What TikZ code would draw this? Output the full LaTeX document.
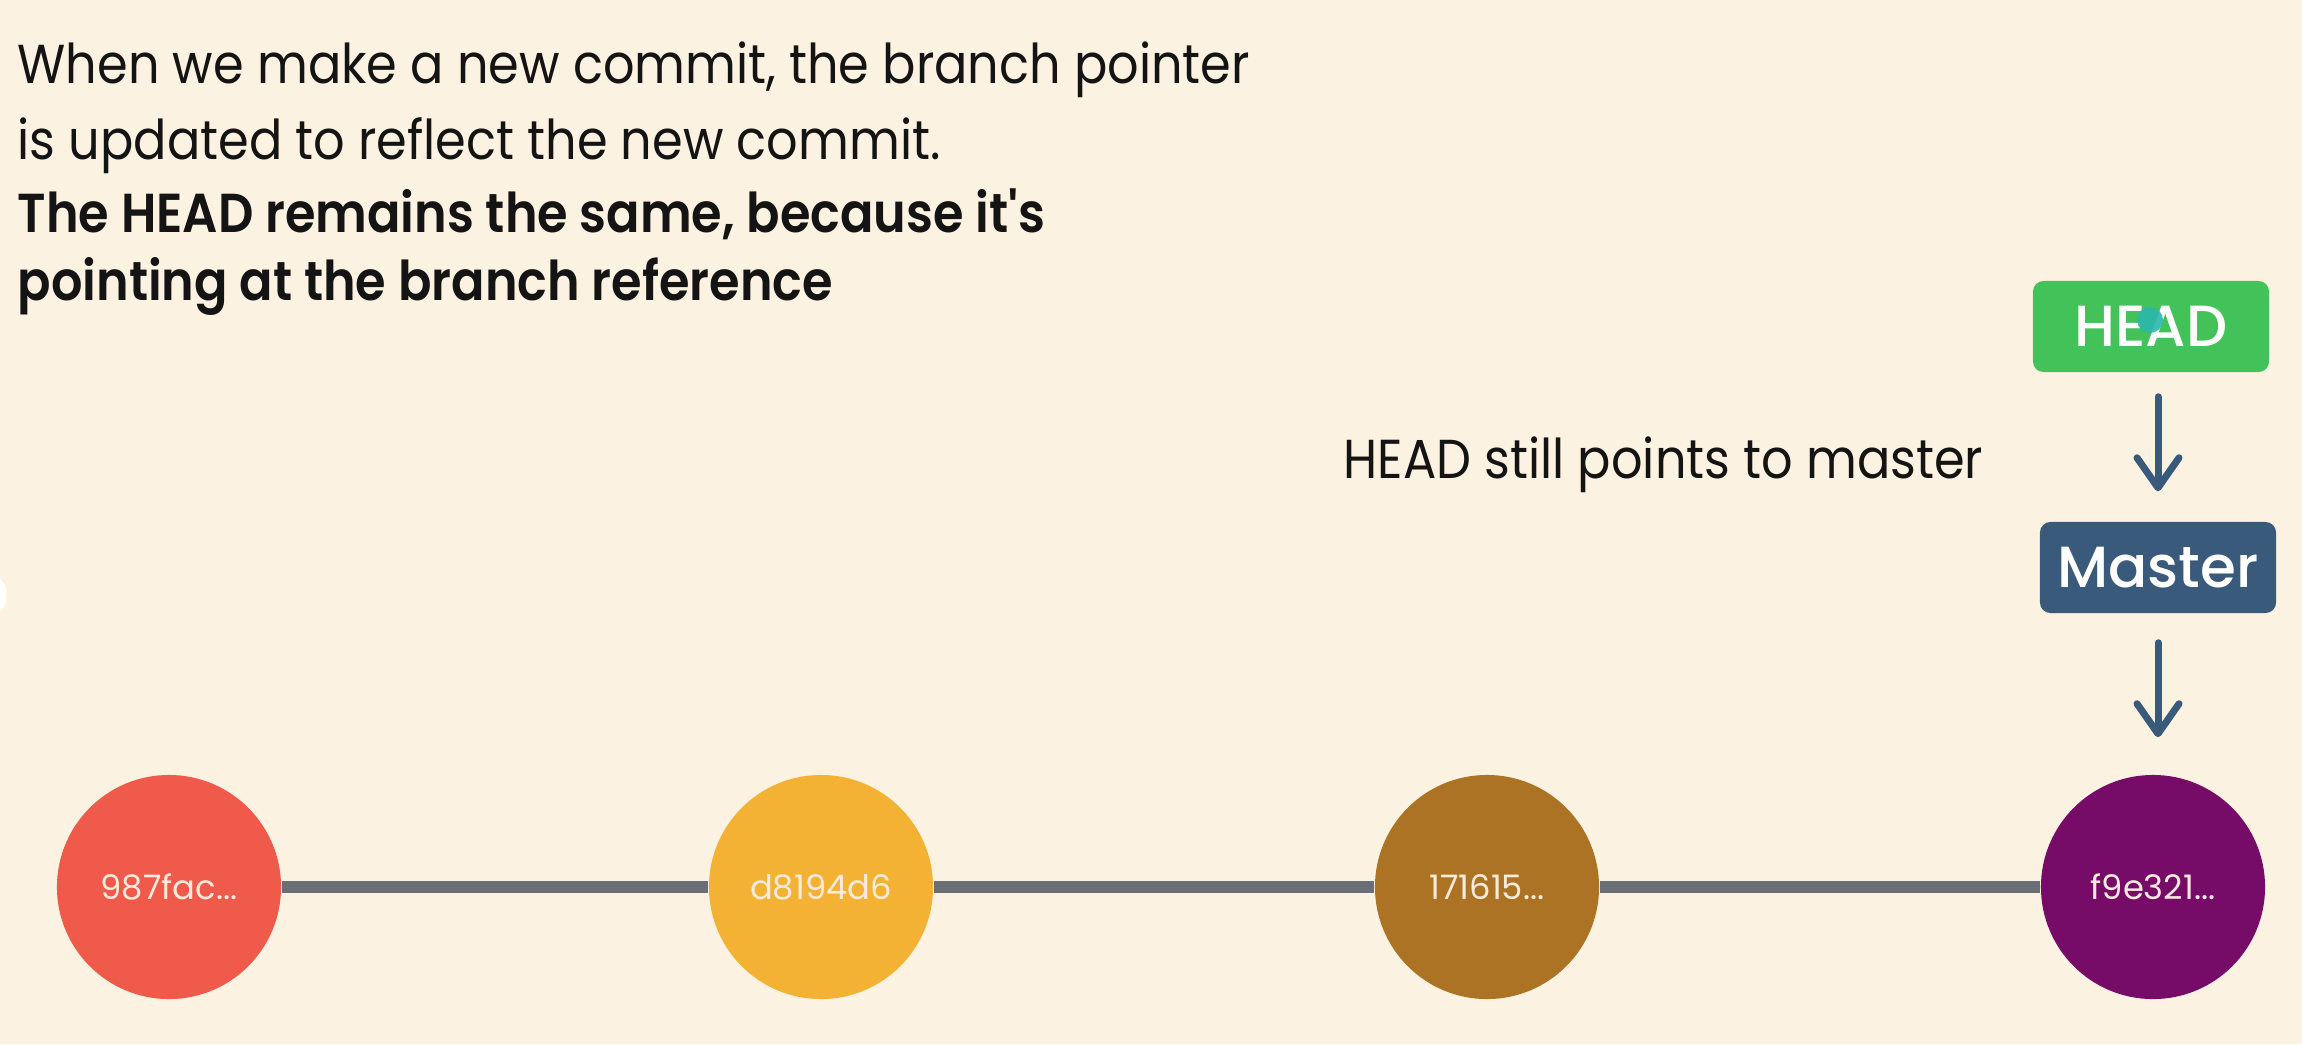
\documentclass[tikz,border=0pt]{standalone}
\usepackage{fontspec}
\setmainfont{Poppins}
\newfontfamily\bodyfont[FakeStretch=0.9]{Poppins}
\newfontfamily\strongfont[FakeStretch=0.9]{Poppins SemiBold}
\newfontfamily\labelfont{Poppins Medium}
\newfontfamily\hashfont{Poppins}
\usetikzlibrary{arrows.meta, backgrounds}

\definecolor{paper}{HTML}{FCF2E1}
\definecolor{inkblack}{HTML}{141414}
\definecolor{headgreen}{HTML}{43C25A}
\definecolor{refblue}{HTML}{3A5A7C}
\definecolor{railgray}{HTML}{6A6E77}
\definecolor{cred}{HTML}{F05A4A}
\definecolor{cyellow}{HTML}{F4B234}
\definecolor{cbrown}{HTML}{AD7324}
\definecolor{cpurple}{HTML}{760B68}
\definecolor{hashtext}{HTML}{FCEBDD}
\definecolor{cursorteal}{HTML}{2BB8AC}

\tikzset{
  caption/.style={anchor=base west, inner sep=0pt, text=inkblack,
    font=\bodyfont\fontsize{15.6pt}{18pt}\selectfont},
  boldcaption/.style={caption,
    font=\strongfont\fontsize{15.6pt}{18pt}\selectfont},
  refbox/.style={rectangle, rounded corners=3pt, minimum width=2.36cm,
    minimum height=0.91cm, inner sep=0pt, text=white,
    font=\labelfont\fontsize{16.5pt}{20pt}\selectfont},
  commit/.style={circle, minimum size=2.24cm, inner sep=0pt, text=hashtext,
    font=\hashfont\fontsize{9.6pt}{11pt}\selectfont},
  rail/.style={draw=railgray, line width=0.12cm},
  pointer/.style={draw=refblue, line width=0.07cm, line cap=round,
    -{Straight Barb[length=0.3cm, width=0.42cm, line width=0.07cm, round]}},
}

\begin{document}
\begin{tikzpicture}[x=0.01cm, y=-0.01cm]
  % canvas
  \begin{scope}[on background layer]
    \fill[paper] (0,0) rectangle (2302,1044);
  \end{scope}
  \useasboundingbox (0,0) rectangle (2302,1044);

  % explanatory text
  \node[caption]     (l1) at (17,83)  {When we make a new commit, the branch pointer};
  \node[caption]     (l2) at (17,159) {is updated to reflect the new commit.};
  \node[boldcaption] (l3) at (17,232) {The HEAD remains the same, because it's};
  \node[boldcaption] (l4) at (17,300) {pointing at the branch reference};

  \node[caption] (note) at (1343,478) {HEAD still points to master};

  % commit history
  \node[commit, fill=cred]    (c1) at (169,887)  {987fac...};
  \node[commit, fill=cyellow] (c2) at (821,887)  {d8194d6};
  \node[commit, fill=cbrown]  (c3) at (1487,887) {171615...};
  \node[commit, fill=cpurple] (c4) at (2153,887) {f9e321...};
  \begin{scope}[on background layer]
    \draw[rail] (c1) -- (c2);
    \draw[rail] (c2) -- (c3);
    \draw[rail] (c3) -- (c4);
  \end{scope}

  % references
  \node[refbox, fill=headgreen] (head)   at (2151,326.5) {HEAD};
  \node[refbox, fill=refblue]   (master) at (2158,567.5) {Master};

  \draw[pointer, shorten <=0.24cm, shorten >=0.3cm] (master.north |- head.south) -- (master.north);
  \draw[pointer, shorten <=0.29cm, shorten >=0.37cm] (master.south) -- (master.south |- c4.north);

  % cursor and screen edge marks
  \fill[cursorteal, opacity=0.9] (2150,320) circle (13);
  \fill[white] (-16,595) circle (23);
\end{tikzpicture}
\end{document}
